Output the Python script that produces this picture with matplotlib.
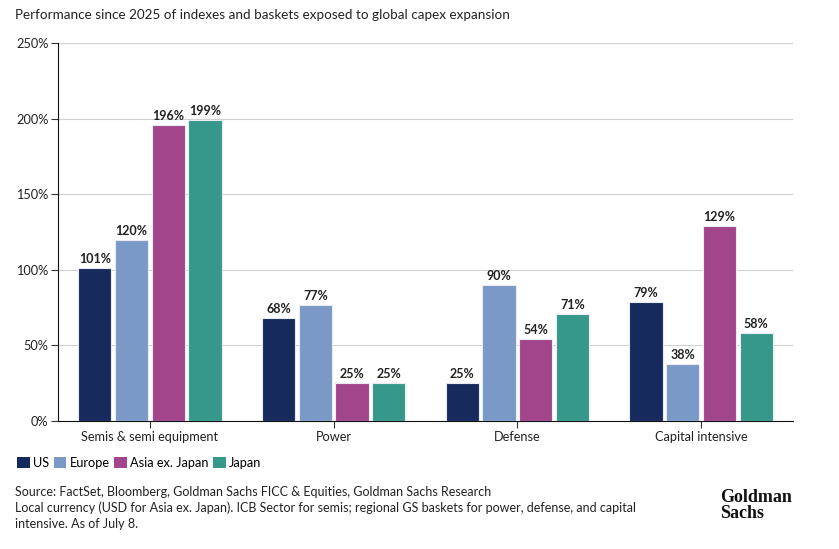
import matplotlib
matplotlib.use('Agg')
import matplotlib.pyplot as plt
from matplotlib.patches import Patch
import numpy as np

categories = ['Semis & semi equipment', 'Power', 'Defense', 'Capital intensive']
series = ['US', 'Europe', 'Asia ex. Japan', 'Japan']
us = [101, 68, 25, 79]
europe = [120, 77, 90, 38]
asia = [196, 25, 54, 129]
japan = [199, 25, 71, 58]
yticks = [0, 50, 100, 150, 200, 250]

colors = ['#172a5e', '#7a99c6', '#a2458a', '#36988a']
values = [us, europe, asia, japan]

plt.rcParams['font.family'] = ['Lato', 'DejaVu Sans']

fig = plt.figure(figsize=(8.39, 5.49), dpi=100)
ax = fig.add_axes([58 / 839, 128 / 549, 735 / 839, 378 / 549])

x = np.arange(len(categories))
width = 0.18
step = 0.2
for i, (name, vals, c) in enumerate(zip(series, values, colors)):
    pos = x + (i - 1.5) * step
    ax.bar(pos, vals, width, color=c, edgecolor='#e8ecf2', linewidth=0.8, zorder=3)
    for p, v in zip(pos, vals):
        ax.text(p, v + 2, f'{v}%', ha='center', va='bottom', fontsize=9,
                fontweight='bold', color='#222222')

ax.set_xlim(-0.5, 3.5)
ax.set_ylim(0, 250)
ax.set_yticks(yticks)
ax.set_yticklabels([f'{t}%' for t in yticks], fontsize=9.2, color='#222222')
ax.set_xticks(x)
ax.set_xticklabels(categories, fontsize=9.2, color='#222222')
ax.grid(axis='y', color='#d0d0d0', linewidth=0.8, zorder=0)
for s in ['top', 'right']:
    ax.spines[s].set_visible(False)
ax.spines['left'].set_color('#111111')
ax.spines['bottom'].set_color('#111111')
ax.tick_params(axis='both', length=5, color='#333333', pad=2)

fig.text(15 / 839, 1 - 15 / 549, 'Performance since 2025 of indexes and baskets exposed to global capex expansion',
         fontsize=9.7, va='center', ha='left', color='#222222')

handles = [Patch(facecolor=c, edgecolor='none') for c in colors]
fig.legend(handles, series, loc='center left', bbox_to_anchor=(12 / 839, 1 - 463 / 549), ncol=4,
           frameon=False, fontsize=9.2, handlelength=1.0, handleheight=1.0,
           handletextpad=0.25, columnspacing=0.35, borderaxespad=0)

fig.text(15 / 839, 1 - 492 / 549, 'Source: FactSet, Bloomberg, Goldman Sachs FICC & Equities, Goldman Sachs Research',
         fontsize=9, va='center', color='#222222')
fig.text(15 / 839, 1 - 508 / 549, 'Local currency (USD for Asia ex. Japan). ICB Sector for semis; regional GS baskets for power, defense, and capital',
         fontsize=9, va='center', color='#222222')
fig.text(15 / 839, 1 - 524 / 549, 'intensive. As of July 8.',
         fontsize=9, va='center', color='#222222')

fig.text(720 / 839, 1 - 498 / 549, 'Goldman', fontsize=13, fontweight='bold', va='center',
         family=['Liberation Serif', 'DejaVu Serif'], color='#111111')
fig.text(720 / 839, 1 - 514 / 549, 'Sachs', fontsize=13, fontweight='bold', va='center',
         family=['Liberation Serif', 'DejaVu Serif'], color='#111111')

fig.savefig('out.png', dpi=100)
